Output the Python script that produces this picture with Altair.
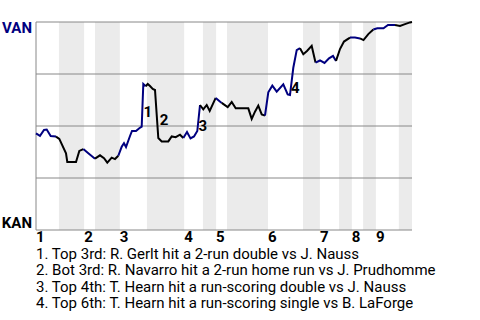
import altair as alt
import pandas as pd

# Play index (0-100 across the game) and VAN win probability (%)
pa = [0.0, 1.06, 2.13, 2.85, 3.91, 5.32, 6.20, 7.98, 8.32, 10.64, 11.52, 12.58, 13.91,
      15.69, 17.02, 18.09, 18.96, 20.13, 21.01, 21.89, 22.79, 23.40, 23.94, 25.0, 25.53,
      26.60, 27.47, 28.11, 28.54, 29.18, 29.71, 30.32, 31.04, 31.65, 32.53, 33.43, 35.19,
      36.09, 37.15, 38.30, 39.18, 40.16, 41.09, 42.02, 42.90, 43.62, 44.49, 45.40, 46.20,
      47.79, 49.39, 50.98, 52.05, 53.11, 55.59, 56.46, 57.37, 58.24, 59.12, 60.03, 60.90,
      61.78, 62.85, 64.02, 65.77, 66.94, 67.55, 68.43, 69.34, 70.21, 71.09, 72.07, 73.32,
      74.34, 75.53, 76.73, 77.93, 78.99, 79.79, 80.85, 81.91, 83.51, 84.84, 86.17, 87.10,
      88.38, 89.71, 90.77, 92.42, 93.62, 95.48, 96.81, 98.14, 99.47, 100.0]
wp = [46.5, 45.3, 48.1, 48.3, 45.2, 44.9, 43.8, 36.9, 32.7, 32.7, 38.0, 38.9, 36.9,
      34.3, 35.9, 34.5, 32.4, 34.8, 34.1, 35.7, 40.0, 41.7, 39.9, 45.2, 47.6,
      47.6, 48.9, 49.7, 70.2, 69.1, 70.2, 69.2, 67.8, 67.3, 44.2, 42.6, 42.6,
      45.0, 44.6, 45.8, 44.2, 47.1, 44.0, 45.0, 47.6, 60.1, 58.0, 60.1, 57.2,
      63.5, 61.1, 59.1, 61.5, 58.5, 58.5, 58.5, 53.4, 56.9, 59.8, 55.6, 55.0,
      66.2, 69.4, 66.5, 70.0, 65.2, 64.9, 78.0, 86.5, 87.4, 84.5, 86.1, 88.5,
      80.5, 81.5, 80.3, 82.5, 83.7, 81.3, 87.0, 90.6, 92.5, 92.5, 92.1, 91.3,
      94.2, 96.4, 97.0, 97.0, 98.6, 98.6, 98.1, 99.0, 99.8, 100.0]

# Start of each half-inning (top 1, bot 1, top 2, ...)
half_starts = [0, 6.1, 12.8, 15.7, 22.3, 29.5, 39.4, 44.4, 47.9, 50.8, 61.7,
               71.0, 75.5, 80.6, 84.0, 87.0, 90.4, 96.5]
game_end = 100
innings = ["1", "2", "3", "4", "5", "6", "7", "8", "9"]

grid_values = [0, 25, 50, 75, 100]

event_labels = ["1", "2", "3", "4"]
event_x = [28.6, 32.9, 43.2, 67.85]
event_y = [54.2, 50.3, 47.6, 65.7]

team_labels = ["VAN", "KAN"]
team_y = [94.6, 0.8]

notes = [
    "1. Top 3rd: R. Gerlt hit a 2-run double vs J. Nauss",
    "2. Bot 3rd: R. Navarro hit a 2-run home run vs J. Prudhomme",
    "3. Top 4th: T. Hearn hit a run-scoring double vs J. Nauss",
    "4. Top 6th: T. Hearn hit a run-scoring single vs B. LaForge",
]

FONT = "Roboto"
NAVY = "#000080"
FS = 15

# ---- build tables ----
ends = half_starts[1:] + [game_end]
line_rows = []
for h, (s, e) in enumerate(zip(half_starts, ends)):
    last = h == len(half_starts) - 1
    idx = [i for i, x in enumerate(pa) if (s <= x < e) or (last and s <= x <= e)]
    if not idx:
        continue
    if idx[0] > 0:
        idx = [idx[0] - 1] + idx
    team = "VAN" if h % 2 == 0 else "KAN"
    for i in idx:
        line_rows.append({"pa": pa[i], "wp": wp[i], "half": h, "team": team})
line_df = pd.DataFrame(line_rows)

band_df = pd.DataFrame([{"s": s, "e": e, "top": 100, "bot": 0}
                        for h, (s, e) in enumerate(zip(half_starts, ends)) if h % 2 == 1])
inning_df = pd.DataFrame({"s": half_starts[0::2], "lab": innings})
grid_df = pd.DataFrame({"g": grid_values})
border_df = pd.DataFrame({"x": [0], "y": [0], "y2": [100]})
event_df = pd.DataFrame({"x": event_x, "y": event_y, "lab": event_labels})
van_df = pd.DataFrame({"x": [0], "y": [team_y[0]], "lab": [team_labels[0]]})
kan_df = pd.DataFrame({"x": [0], "y": [team_y[1]], "lab": [team_labels[1]]})
note_df = pd.DataFrame({"txt": ["\n".join(notes)]})

xs = alt.Scale(domain=[0, game_end], nice=False, zero=False)
ys = alt.Scale(domain=[0, 100], nice=False, zero=False)

bands = alt.Chart(band_df).mark_rect(color="#ebebeb").encode(
    x=alt.X("s:Q", scale=xs, axis=None), x2="e:Q",
    y=alt.Y("top:Q", scale=ys, axis=None), y2="bot:Q",
)

grid = alt.Chart(grid_df).mark_rule(color="#888888", strokeWidth=1).encode(
    y=alt.Y("g:Q", scale=ys, axis=None)
)

left_border = alt.Chart(border_df).mark_rule(color="#888888", strokeWidth=1).encode(
    x=alt.X("x:Q", scale=xs, axis=None), y=alt.Y("y:Q", scale=ys, axis=None), y2="y2:Q"
)

line = alt.Chart(line_df).mark_line(strokeWidth=2).encode(
    x=alt.X("pa:Q", scale=xs, axis=None),
    y=alt.Y("wp:Q", scale=ys, axis=None),
    color=alt.Color("team:N", scale=alt.Scale(domain=["VAN", "KAN"], range=[NAVY, "#000000"]), legend=None),
    detail="half:N",
    order="pa:Q",
)

events = alt.Chart(event_df).mark_text(
    font=FONT, fontSize=FS, fontWeight="bold", align="left", baseline="alphabetic", color="black"
).encode(x=alt.X("x:Q", scale=xs, axis=None), y=alt.Y("y:Q", scale=ys, axis=None), text="lab:N")

van_text = alt.Chart(van_df).mark_text(
    font=FONT, fontSize=FS, fontWeight="bold", align="right", baseline="alphabetic", dx=-4, color=NAVY
).encode(x=alt.X("x:Q", scale=xs, axis=None), y=alt.Y("y:Q", scale=ys, axis=None), text="lab:N")

kan_text = alt.Chart(kan_df).mark_text(
    font=FONT, fontSize=FS, fontWeight="bold", align="right", baseline="alphabetic", dx=-4, color="black"
).encode(x=alt.X("x:Q", scale=xs, axis=None), y=alt.Y("y:Q", scale=ys, axis=None), text="lab:N")

inning_text = alt.Chart(inning_df).mark_text(
    font=FONT, fontSize=FS, fontWeight="bold", align="left", baseline="alphabetic", color="black"
).encode(x=alt.X("s:Q", scale=xs, axis=None), y=alt.value(220), text="lab:N")

note_text = alt.Chart(note_df).mark_text(
    font=FONT, fontSize=FS, align="left", baseline="alphabetic", color="black",
    lineBreak="\n", lineHeight=16.3
).encode(x=alt.value(0), y=alt.value(237), text="txt:N")

chart = alt.layer(
    bands, grid, left_border, line, events, van_text, kan_text, inning_text, note_text
).properties(
    width=376, height=208,
    padding={"left": 36, "top": 22, "right": 68, "bottom": 90},
    autosize=alt.AutoSizeParams(type="none"),
).configure_view(stroke=None)

chart.save("out.html", embed_options={"renderer": "svg", "actions": False})
